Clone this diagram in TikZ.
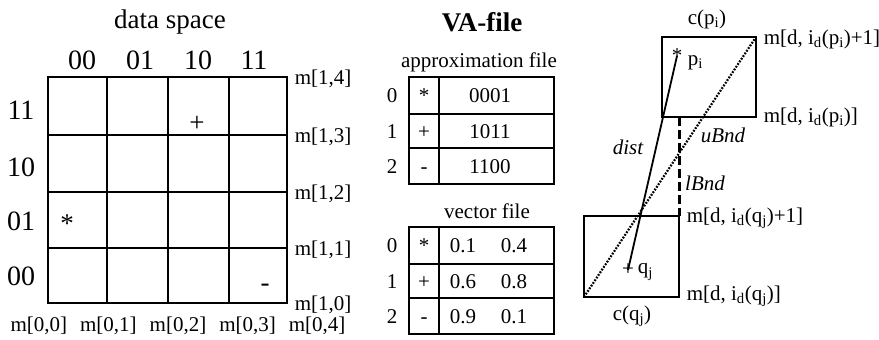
\documentclass[tikz,border=0pt]{standalone}
\usepackage{fontspec}
\setmainfont{Liberation Serif}
\usetikzlibrary{positioning,calc}
\tikzset{
  every picture/.style={line width=1.6pt},
  head/.style={font=\fontsize{27}{30}\selectfont, inner sep=0pt},
  axis/.style={font=\fontsize{28}{30}\selectfont, inner sep=0pt},
  title/.style={font=\bfseries\fontsize{27}{30}\selectfont, inner sep=0pt},
  lbl/.style={font=\fontsize{21}{24}\selectfont, inner sep=0pt},
  ftitle/.style={font=\fontsize{21}{24}\selectfont, inner sep=0pt},
  cell/.style={font=\fontsize{21}{24}\selectfont, inner sep=0pt, text height=14pt, text depth=0pt},
  sym/.style={font=\fontsize{27}{30}\selectfont, inner sep=0pt},
  bnd/.style={font=\itshape\fontsize{21}{24}\selectfont, inner sep=0pt},
  frame/.style={line width=2.4pt},
  thin/.style={line width=1.6pt},
  dist/.style={line width=1.8pt},
  upper/.style={line width=2.2pt, dash pattern=on 1.8pt off 1.4pt},
  lower/.style={line width=3pt, dash pattern=on 9pt off 4pt},
}

\begin{document}
\begin{tikzpicture}[x=1pt, y=-1pt]
  \useasboundingbox (0,0) rectangle (879,340);
  % data space: 4 x 4 cells, two bits per dimension
  \node[head] (ds) at (170,22) {data space};
  \foreach \x in {107,168,229} { \draw[thin] (\x,77) -- (\x,303); }
  \foreach \y in {135,192,248} { \draw[thin] (48,\y) -- (287,\y); }
  \draw[frame] (48,77) rectangle (287,303);
  \foreach \t/\x in {00/82,01/140,10/198,11/254} { \node[axis] (col\t) at (\x,60) {\t}; }
  \foreach \t/\y in {11/110,10/167,01/221,00/276} { \node[axis] (row\t) at (21,\y) {\t}; }
  \foreach \k/\y in {4/77,3/135,2/192,1/248,0/303} { \node[lbl, anchor=west] (my\k) at (294,\y+2) {m[1,\k]}; }
  \node[lbl] (mx) at (178,326) {m[0,0]\hspace{13pt}m[0,1]\hspace{13pt}m[0,2]\hspace{13pt}m[0,3]\hspace{13pt}m[0,4]};
  \node[sym] (ptA) at (67,224) {*};
  \node[sym] (ptB) at (197,124) {+};
  \node[sym] (ptC) at (265,288) {-};
  % VA-file: approximation file and vector file
  \node[title] (va) at (482,22) {VA-file};
  \node[ftitle] (apx) at (479,62) {approximation file};
  \draw[frame] (409,77) rectangle (554,184);
  \draw[thin] (439,77) -- (439,184);
  \foreach \y in {114,148} { \draw[thin] (409,\y) -- (554,\y); }
  \foreach \i/\s/\v/\y in {0/*/0001/95,1/+/1011/131,2/-/1100/166} {
    \node[cell] (ai\i) at (392,\y) {\i};
    \node[cell] (as\i) at (424,\y) {\s};
    \node[cell] (av\i) at (490,\y) {\v};
  }
  \node[ftitle] (vec) at (487,211) {vector file};
  \draw[frame] (409,227) rectangle (554,334);
  \draw[thin] (439,227) -- (439,334);
  \foreach \y in {264,298} { \draw[thin] (409,\y) -- (554,\y); }
  \foreach \i/\s/\a/\b/\y in {0/*/0.1/0.4/245,1/+/0.6/0.8/281,2/-/0.9/0.1/316} {
    \node[cell] (vi\i) at (392,\y) {\i};
    \node[cell] (vs\i) at (424,\y) {\s};
    \node[cell] (va\i) at (463,\y) {\a};
    \node[cell] (vb\i) at (514,\y) {\b};
  }
  % cells of p_i and q_j with the bounds between them
  \draw[thin] (662,37) rectangle (756,117);
  \draw[thin] (584,216) rectangle (679,297);
  \coordinate (pTR) at (756,37);
  \coordinate (pBR) at (756,117);
  \coordinate (pB) at (679,117);
  \coordinate (qTR) at (679,216);
  \coordinate (qBR) at (679,297);
  \coordinate (qBL) at (584,297);
  \coordinate (pi) at (677,56);
  \coordinate (qj) at (628,270);
  \draw[dist] (pi) -- (qj);
  \draw[upper] (qBL) -- (pTR);
  \draw[lower] (pB) -- (qTR);
  \node[lbl] (star) at (pi) {*};
  \node[lbl] (plus) at (qj) {+};
  \node[lbl, anchor=west] (pl) at (687,63) {p\textsubscript{i}};
  \node[lbl, anchor=west] (ql) at (637,272) {q\textsubscript{j}};
  \node[lbl] (cp) at (707,19) {c(p\textsubscript{i})};
  \node[lbl] (cq) at (632,316) {c(q\textsubscript{j})};
  \node[lbl, anchor=west] (m1) at (763,39) {m[d, i\textsubscript{d}(p\textsubscript{i})+1]};
  \node[lbl, anchor=west] (m2) at (763,117) {m[d, i\textsubscript{d}(p\textsubscript{i})]};
  \node[lbl, anchor=west] (m3) at (686,218) {m[d, i\textsubscript{d}(q\textsubscript{j})+1]};
  \node[lbl, anchor=west] (m4) at (686,296) {m[d, i\textsubscript{d}(q\textsubscript{j})]};
  \node[bnd] (dl) at (628,147) {dist};
  \node[bnd] (ub) at (723,135) {uBnd};
  \node[bnd] (lb) at (705,183) {lBnd};
\end{tikzpicture}
\end{document}
